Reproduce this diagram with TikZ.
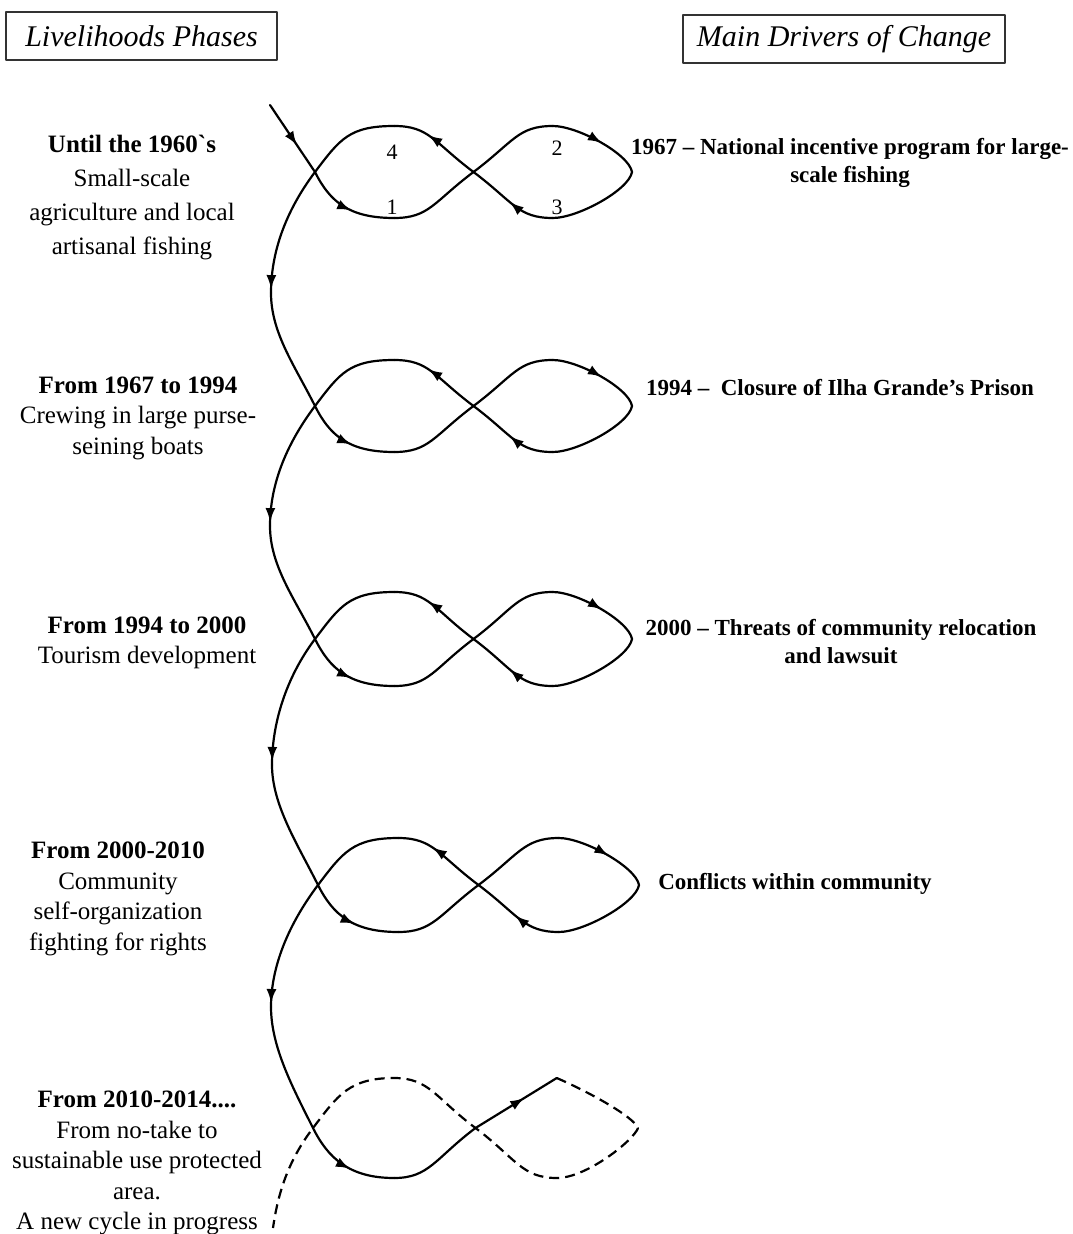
\documentclass[tikz,border=0pt]{standalone}
\usepackage{fontspec}
\newfontfamily\lfont{Liberation Serif}
\usetikzlibrary{arrows.meta,decorations.markings}
\begin{document}
\begin{tikzpicture}[x=1pt,y=-1pt,line width=2.2pt,line cap=round,line join=round,
  midarrow/.style={postaction={decorate},decoration={markings,mark=at position #1 with {\arrow{Latex[length=14pt,width=10pt]}}}},
  dashseg/.style={dash pattern=on 10pt off 6pt,line cap=butt},
  phase/.style={font=\lfont\fontsize{25}{30.5}\selectfont,align=center,inner sep=0pt},
  driver/.style={font=\lfont\bfseries\fontsize{23}{28}\selectfont,align=center,inner sep=0pt},
  numlab/.style={font=\lfont\fontsize{22}{26}\selectfont,inner sep=0pt},
  header/.style={draw=black!80,line width=1.1pt,font=\lfont\itshape\fontsize{30}{36}\selectfont,minimum height=48pt,inner sep=0pt}]
\useasboundingbox (0,0) rectangle (1073,1234);

% headers
\node[header,minimum width=271pt] (h1) at (141.5,36) {Livelihoods Phases};
\node[header,minimum width=322pt] (h2) at (844,39) {Main Drivers of Change};

% loop geometry
\foreach \k/\xl/\yo/\xr/\h in {1/315/172/632/46,2/315/406/632/46,3/315/639/632/47,4/318/885/639/47,5/313/1128/638/50}{
  \coordinate (L\k) at (\xl,\yo);
  \coordinate (R\k) at (\xr,\yo);
  \coordinate (C\k) at ({(\xl+\xr)/2},\yo);
  \coordinate (LT\k) at ({(3*\xl+\xr)/4},{\yo-\h});
  \coordinate (LB\k) at ({(3*\xl+\xr)/4},{\yo+\h});
  \coordinate (RT\k) at ({(\xl+3*\xr)/4},{\yo-\h});
  \coordinate (RB\k) at ({(\xl+3*\xr)/4},{\yo+\h});
}
\coordinate (S) at (270,105);
\coordinate (M1) at (271,293);
\coordinate (M2) at (270,526);
\coordinate (M3) at (272,765);
\coordinate (M4) at (271,1007);
\coordinate (E) at (273,1228);

% entry
\draw[midarrow=0.6] (S) -- (L1);

% full loops 1-4
\foreach \k in {1,2,3,4}{
  \draw[midarrow=0.55] (L\k) .. controls +(15,30) and +(-45,0) .. (LB\k);
  \draw (LB\k) .. controls +(35,0) and +(-40,30) .. (C\k);
  \draw (C\k) .. controls +(40,-30) and +(-35,0) .. (RT\k);
  \draw[midarrow=0.55] (RT\k) .. controls +(25,0) and +(-3,-18) .. (R\k);
  \draw (R\k) .. controls +(-3,18) and +(25,0) .. (RB\k);
  \draw[midarrow=0.5] (RB\k) .. controls +(-35,0) and +(40,30) .. (C\k);
  \draw[midarrow=0.62] (C\k) .. controls +(-40,-30) and +(35,0) .. (LT\k);
  \draw (LT\k) .. controls +(-45,0) and +(25,-33) .. (L\k);
}

% transitions between loops
\foreach \k/\n in {1/2,2/3,3/4,4/5}{
  \draw[midarrow=0.97] (L\k) .. controls +(-30,40) and +(0,-40) .. (M\k);
  \draw (M\k) .. controls +(0,40) and +(-20,-40) .. (L\n);
}

% last loop, partly dashed
\draw[midarrow=0.55] (L5) .. controls +(15,30) and +(-45,0) .. (LB5);
\draw (LB5) .. controls +(35,0) and +(-40,30) .. (C5);
\draw[midarrow=0.6] (C5) -- (RT5);
\draw[dashseg] (RT5) .. controls +(30,13) and +(-5,-12) .. (R5)
  .. controls +(-4,12) and +(30,0) .. (RB5)
  .. controls +(-35,0) and +(40,30) .. (C5)
  .. controls +(-40,-30) and +(35,0) .. (LT5)
  .. controls +(-45,0) and +(25,-33) .. (L5)
  .. controls +(-25,33) and +(5,-35) .. (E);

% phase numbers
\node[numlab] (n4) at (392,152) {4};
\node[numlab] (n2) at (557,148) {2};
\node[numlab] (n1) at (392,207) {1};
\node[numlab] (n3) at (557,207) {3};

% livelihood phases
\node[phase,font=\lfont\fontsize{25}{34}\selectfont] (p1) at (132,198)
  {\textbf{Until the 1960`s}\\Small-scale\\agriculture and local\\artisanal fishing};
\node[phase] (p2) at (138,418) {\textbf{From 1967 to 1994}\\Crewing in large purse-\\seining boats};
\node[phase] (p3) at (147,643) {\textbf{From 1994 to 2000}\\Tourism development};
\node[phase] (p4) at (118,899) {\textbf{From 2000-2010}\\Community\\self-organization\\fighting for rights};
\node[phase] (p5) at (137,1163) {\textbf{From 2010-2014....}\\From no-take to\\sustainable use protected\\area.\\A new cycle in progress};

% drivers of change
\node[driver] (d1) at (850,163) {1967 – National incentive program for large-\\scale fishing};
\node[driver] (d2) at (840,388) {1994 –\ \ Closure of Ilha Grande’s Prison};
\node[driver] (d3) at (841,642) {2000 – Threats of community relocation\\and lawsuit};
\node[driver] (d4) at (795,884) {Conflicts within community};
\end{tikzpicture}
\end{document}
